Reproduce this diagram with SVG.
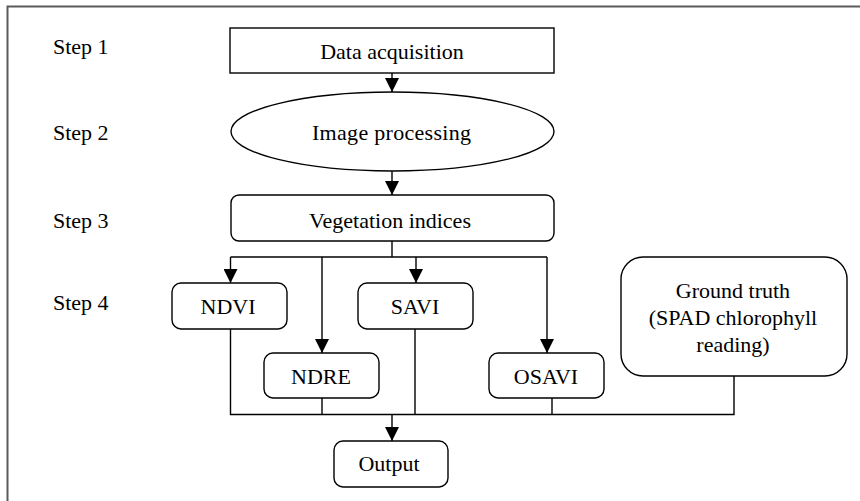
<svg xmlns="http://www.w3.org/2000/svg" width="860" height="501" viewBox="0 0 860 501">
<style>
.frame{fill:none;stroke:#5a5a5a;stroke-width:2}
.box{fill:#fff;stroke:#000;stroke-width:1.4}
.ln{fill:none;stroke:#000;stroke-width:1.4}
.arr{marker-end:url(#ah)}
text{font-family:"Liberation Serif","Times New Roman",serif;font-size:22px;fill:#000}
.c{text-anchor:middle}
</style>
<defs>
<marker id="ah" markerUnits="userSpaceOnUse" markerWidth="14" markerHeight="14" refX="14" refY="7" orient="auto">
<path d="M0,0 L14,7 L0,14 z" fill="#000"/>
</marker>
</defs>
<rect class="frame" x="7.5" y="6.5" width="900" height="520"/>
<g id="labels">
<text x="53" y="54">Step 1</text>
<text x="53" y="140">Step 2</text>
<text x="53" y="228">Step 3</text>
<text x="53" y="310">Step 4</text>
</g>
<g id="connectors">
<line class="ln arr" x1="392" y1="73" x2="392" y2="92"/>
<line class="ln arr" x1="392" y1="171" x2="392" y2="195"/>
<polyline class="ln" points="392,241 392,257"/>
<polyline class="ln" points="230.5,257 547,257"/>
<line class="ln arr" x1="230.5" y1="257" x2="230.5" y2="283"/>
<line class="ln arr" x1="322" y1="257" x2="322" y2="353"/>
<line class="ln arr" x1="416" y1="257" x2="416" y2="283"/>
<line class="ln arr" x1="547" y1="257" x2="547" y2="353"/>
<polyline class="ln" points="230.5,329 230.5,414.5 734,414.5 734,376"/>
<line class="ln" x1="322" y1="398" x2="322" y2="414.5"/>
<line class="ln" x1="415" y1="329" x2="415" y2="414.5"/>
<line class="ln" x1="552" y1="398" x2="552" y2="414.5"/>
<line class="ln arr" x1="392" y1="414.5" x2="392" y2="441"/>
</g>
<g id="data-acquisition">
<rect class="box" x="230" y="28" width="324" height="45"/>
<text class="c" x="392" y="59">Data acquisition</text>
</g>
<g id="image-processing">
<ellipse class="box" cx="392.5" cy="131.5" rx="161.5" ry="39.5"/>
<text class="c" x="391.5" y="140" textLength="159" lengthAdjust="spacing">Image processing</text>
</g>
<g id="vegetation-indices">
<rect class="box" x="231" y="195" width="323" height="46" rx="8"/>
<text class="c" x="390" y="228">Vegetation indices</text>
</g>
<g id="ndvi">
<rect class="box" x="172" y="283" width="115" height="46" rx="9"/>
<text class="c" x="228" y="314">NDVI</text>
</g>
<g id="ndre">
<rect class="box" x="264" y="353" width="115" height="45" rx="9"/>
<text class="c" x="321" y="384">NDRE</text>
</g>
<g id="savi">
<rect class="box" x="358" y="283" width="115" height="46" rx="9"/>
<text class="c" x="415" y="314">SAVI</text>
</g>
<g id="osavi">
<rect class="box" x="489" y="353" width="115" height="45" rx="9"/>
<text class="c" x="546" y="384">OSAVI</text>
</g>
<g id="ground-truth">
<rect class="box" x="621" y="257" width="226" height="119" rx="22"/>
<text class="c" x="733" y="298">Ground truth</text>
<text class="c" x="733" y="325">(SPAD chlorophyll</text>
<text class="c" x="733" y="352">reading)</text>
</g>
<g id="output">
<rect class="box" x="334" y="441" width="114" height="46" rx="9"/>
<text class="c" x="389" y="471">Output</text>
</g>
</svg>
